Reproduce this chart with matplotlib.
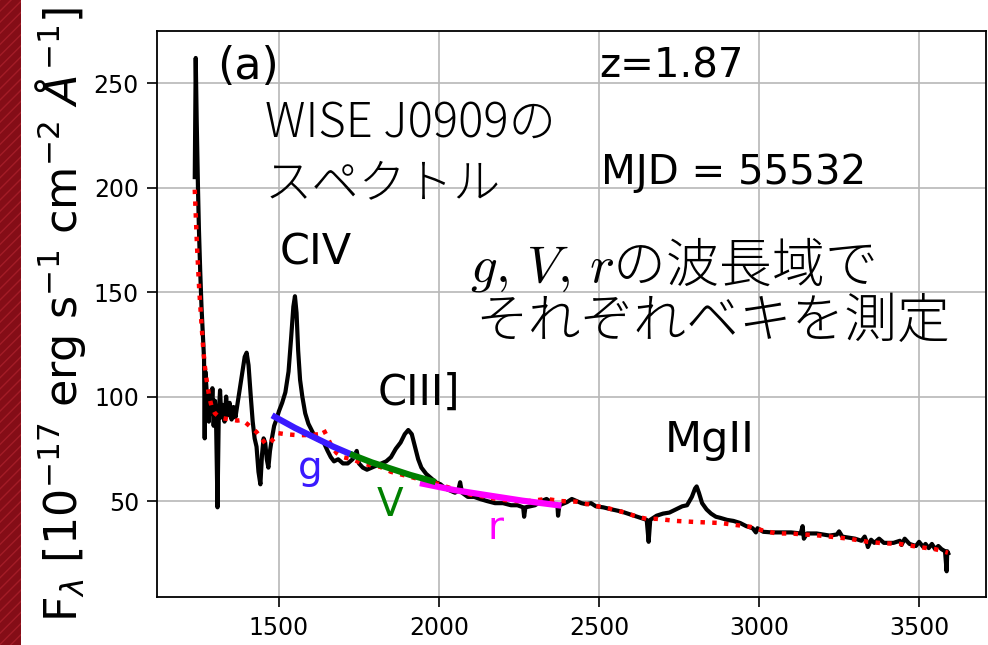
import matplotlib
matplotlib.use('Agg')
import matplotlib.pyplot as plt
from matplotlib.patches import Rectangle

# observed spectrum (rest-frame wavelength [A], flux)
wave = [1237, 1240, 1243, 1247, 1250, 1254, 1258, 1262, 1266, 1268, 1270, 1274, 1278, 1281,
        1284, 1288, 1292, 1296, 1300, 1304, 1308, 1312, 1316, 1320, 1325, 1330, 1335, 1340,
        1346, 1352, 1358, 1364, 1370, 1378, 1386, 1393, 1399, 1405, 1412, 1418, 1424, 1430,
        1436, 1442, 1447, 1452, 1457, 1462, 1467, 1472, 1478, 1485, 1492, 1500, 1510, 1520,
        1530, 1538, 1545, 1550, 1555, 1560, 1566, 1573, 1582, 1592, 1602, 1615, 1628, 1640,
        1652, 1662, 1672, 1685, 1700, 1715, 1730, 1743, 1750, 1762, 1775, 1790, 1805, 1820,
        1835, 1850, 1865, 1880, 1893, 1904, 1915, 1925, 1935, 1945, 1960, 1975, 1990, 2005,
        2020, 2035, 2050, 2060, 2066, 2072, 2090, 2110, 2128, 2150, 2175, 2200, 2225, 2245,
        2263, 2266, 2270, 2300, 2320, 2336, 2355, 2370, 2372, 2376, 2400, 2415, 2430, 2445,
        2460, 2475, 2490, 2513, 2540, 2570, 2600, 2630, 2649, 2655, 2660, 2680, 2700, 2720,
        2740, 2760, 2775, 2790, 2800, 2805, 2812, 2822, 2836, 2850, 2865, 2878, 2900, 2920,
        2941, 2960, 2980, 2990, 2995, 3013, 3040, 3070, 3100, 3130, 3136, 3140, 3150, 3180,
        3200, 3220, 3243, 3250, 3260, 3280, 3300, 3320, 3330, 3336, 3340, 3350, 3360, 3375,
        3390, 3420, 3440, 3445, 3455, 3470, 3490, 3500, 3513, 3520, 3530, 3540, 3550, 3560,
        3570, 3581, 3586, 3588, 3591]
flux = [205, 262, 232, 200, 180, 160, 143, 130, 118, 80, 112, 103, 98, 88,
        101, 92, 104, 86, 98, 84, 47, 92, 103, 90, 96, 88, 100, 91,
        97, 89, 95, 90, 96, 104, 112, 119, 121, 115, 100, 88, 80, 76,
        64, 58, 72, 80, 78, 70, 66, 74, 80, 86, 89, 93, 97, 102,
        112, 128, 143, 148, 140, 122, 108, 100, 92, 87, 84, 80, 79, 78,
        74, 71, 69, 70, 68, 68, 70, 74, 68, 66, 65, 66, 67, 68,
        69, 71, 75, 78, 82, 84, 82, 76, 70, 66, 63, 61, 59, 58,
        56, 55, 54, 55, 59, 54, 52, 52, 51, 50, 49, 49, 48, 48,
        47, 42.5, 47, 48, 50, 51, 49, 48, 43, 48, 49.5, 51, 50, 49,
        48.5, 49, 47.5, 47, 46, 45, 43.5, 42, 41, 30.5, 41, 43, 44, 44.5,
        46, 47.5, 48, 52, 56, 57, 54, 49, 46, 44, 42.5, 42, 41, 40.5,
        39.5, 38, 37, 35, 37, 35.3, 35, 35, 35, 34.5, 38, 32, 34.5, 34.5,
        34, 33.5, 34, 35.5, 33, 32.5, 32, 31, 33, 30.5, 28, 31.5, 30, 32,
        30, 30, 31, 29, 32, 29.5, 28.5, 30.5, 28, 29.5, 27.5, 29.5, 27, 28.5,
        27, 26, 16.4, 26, 25]

# continuum model (red dotted)
cont_wave = [1237, 1244, 1251, 1257, 1263, 1268, 1274, 1282, 1290, 1300, 1315, 1330, 1350,
             1370, 1385, 1400, 1415, 1430, 1445, 1460, 1472, 1485, 1497, 1520, 1560, 1600,
             1625, 1640, 1650, 1665, 1680, 1700, 1730, 1760, 1790, 1816, 1850, 1900, 1950,
             1981, 2020, 2060, 2100, 2128, 2180, 2230, 2280, 2336, 2380, 2430, 2480, 2530,
             2580, 2620, 2649, 2680, 2740, 2800, 2880, 2930, 2972, 3010, 3055, 3100, 3140,
             3175, 3220, 3280, 3340, 3388, 3440, 3500, 3550, 3590]
cont_flux = [199, 172, 151, 137, 124, 115, 108, 100, 95, 92, 90, 89.5, 89,
             88.5, 88.8, 87, 85, 83, 80, 77, 78, 80, 82.5, 82, 81.5, 81.6,
             82, 84, 81, 76, 73, 71, 70, 68, 67, 66.4, 64, 62, 60,
             59, 57, 55, 53, 52.5, 51, 50, 50, 51, 50, 49.7, 48, 46.5,
             44.5, 42.5, 41.5, 41.5, 40.5, 40, 39.5, 38.5, 37.7, 36, 34.5, 34.5, 34,
             33.7, 33, 32, 30.5, 29.8, 29.5, 28, 27, 25.3]

# power-law fits in each band
g_wave = [1487, 1550, 1610, 1670, 1731]
g_flux = [90.3, 85, 80.5, 76, 72]
v_wave = [1731, 1790, 1850, 1910, 1980]
v_flux = [72, 68.5, 65.5, 62.5, 59.5]
r_wave = [1950, 2050, 2150, 2260, 2373]
r_flux = [58.3, 55.2, 52.8, 50.2, 48]

xticks = [1500, 2000, 2500, 3000, 3500]
yticks = [50, 100, 150, 200, 250]

fig = plt.figure(figsize=(9.88, 6.45), dpi=100)
# slide background strip on the left
fig.patches.append(Rectangle((0, 0), 21 / 988, 1, transform=fig.transFigure,
                             facecolor='#840d17', edgecolor='#a31c27', hatch='///',
                             linewidth=0, zorder=0))
ax = fig.add_axes([157 / 988, 48 / 645, 829 / 988, 566 / 645])

ax.plot(wave, flux, color='black', lw=3, zorder=2)
ax.plot(cont_wave, cont_flux, color='red', lw=3.2, ls=':', zorder=3)
ax.plot(g_wave, g_flux, color='#3a1aff', lw=4.5, zorder=4)
ax.plot(r_wave, r_flux, color='#ff00ff', lw=4.5, zorder=4)
ax.plot(v_wave, v_flux, color='green', lw=4.5, zorder=5)

ax.set_xlim(1119, 3709)
ax.set_ylim(4.1, 274.9)
ax.set_xticks(xticks)
ax.set_yticks(yticks)
ax.tick_params(labelsize=17, length=7, width=1.2)
ax.tick_params(axis='x', pad=7)
ax.tick_params(axis='y', pad=6)
ax.grid(True, color='#b8b8b8', lw=1.2)
ax.set_axisbelow(True)
for s in ax.spines.values():
    s.set_linewidth(1.3)

ax.set_ylabel(r'F$_\lambda$ [10$^{-17}$ erg s$^{-1}$ cm$^{-2}$ $\AA^{-1}$]',
              fontsize=32, family='DejaVu Sans')
ax.yaxis.set_label_coords(-0.083, 0.5)

# annotations from the figure
ax.text(1306, 258, '(a)', fontsize=32, va='center')
ax.text(2500, 258, 'z=1.87', fontsize=29, va='center')
ax.text(2506, 207, 'MJD = 55532', fontsize=29, va='center')
ax.text(1503, 169, 'CIV', fontsize=31, va='center')
ax.text(1809, 102, 'CIII]', fontsize=30, va='center')
ax.text(2706, 79, 'MgII', fontsize=31, va='center')
ax.text(1597, 66, 'g', fontsize=28, color='#3a1aff', va='center', ha='center')
ax.text(1847, 48, 'V', fontsize=28, color='green', va='center', ha='center')
ax.text(2175, 37, 'r', fontsize=28, color='#ff00ff', va='center', ha='center')

# Japanese notes added on the slide
jp = ['Noto Sans CJK JP', 'DejaVu Sans']
ax.text(1456, 231, 'WISE J0909の', fontsize=34, family=jp, fontweight='light', va='center')
ax.text(1456, 202, 'スペクトル', fontsize=34, family=jp, fontweight='light', va='center')
ax.text(2097, 163, r'$g,\,V,\,r$の波長域で', fontsize=38, family=jp, fontweight='light',
        va='center', math_fontfamily='cm')
ax.text(2112, 135.5, 'それぞれベキを測定', fontsize=38, family=jp, fontweight='light', va='center')

plt.savefig('out.png', dpi=100)
